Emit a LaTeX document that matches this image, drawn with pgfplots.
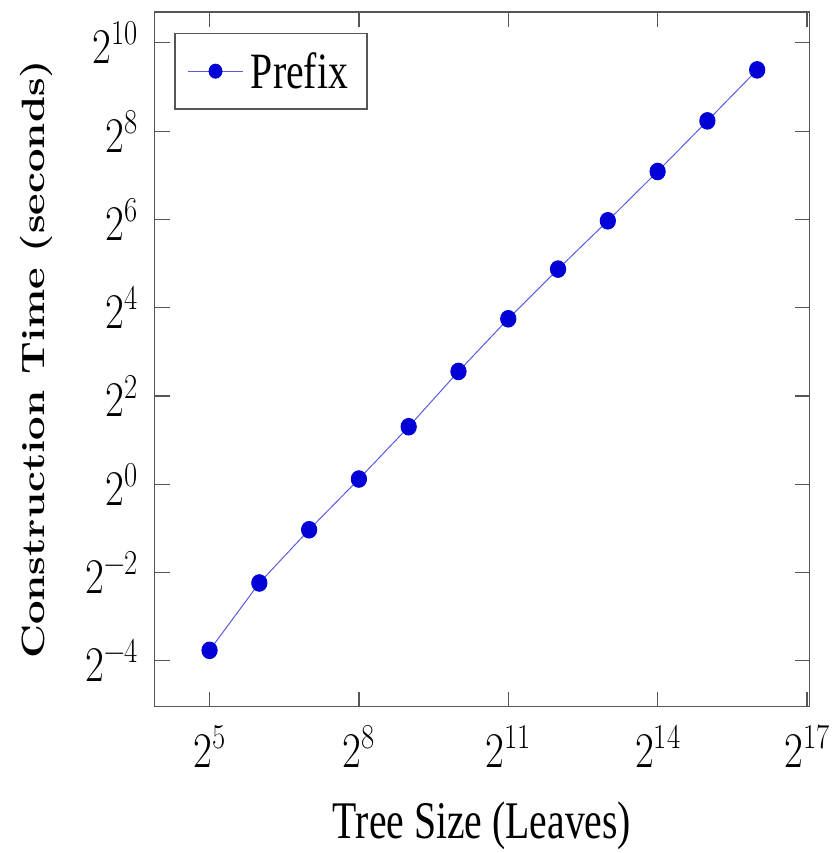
\documentclass[border=0pt]{standalone}
\usepackage{fontspec}
\usepackage{graphicx}
\usepackage{pgfplots}
\pgfplotsset{compat=1.18}
\newfontfamily\timesfont{Liberation Serif}
\definecolor{lineblue}{RGB}{90,90,225}
\definecolor{markblue}{RGB}{0,0,215}
\definecolor{axgray}{RGB}{85,85,85}
\newcommand\tl[1]{2\raisebox{0.38em}{\fontsize{35}{40}\selectfont #1}}
\begin{document}
\begin{tikzpicture}
\begin{axis}[
  name=ax,
  scale only axis, width=656pt, height=696pt,
  xmode=log, ymode=log, log basis x=2, log basis y=2,
  xmin=14.91, xmax=135700, ymin=0.0304, ymax=1663.5,
  xtick={32,256,2048,16384,131072},
  ytick={0.0625,0.25,1,4,16,64,256,1024},
  xticklabels={\tl{5},\tl{8},\tl{11},\tl{14},\tl{17}},
  yticklabels={\tl{−4},\tl{−2},\tl{0},\tl{2},\tl{4},\tl{6},\tl{8},\tl{10}},
  xminorticks=false, yminorticks=false,
  tick label style={font=\fontsize{50}{60}\selectfont, xscale=0.82},
  xticklabel style={yshift=-15pt},
  yticklabel style={xshift=-17pt},
  major tick length=15pt,
  axis line style={axgray, line width=1.5pt},
  every tick/.style={axgray, line width=1.2pt},
  xlabel={\scalebox{0.75}[1]{Tree Size (Leaves)}},
  xlabel style={font=\timesfont\fontsize{53}{60}\selectfont,
    at={(axis description cs:0.5,-0.1897)}, anchor=base},
  ylabel={\scalebox{1}[0.77]{Construction Time (seconds)}},
  ylabel style={font=\bfseries\fontsize{42}{50}\selectfont,
    at={(axis description cs:-0.1677,0.5)}, anchor=base},
  legend style={at={(0.03,0.97)}, anchor=north west, draw=axgray, line width=1.5pt,
    inner xsep=12pt, inner ysep=8pt,
    nodes={inner xsep=7pt, inner ysep=11pt},
    font=\timesfont\fontsize{51}{60}\selectfont},
  legend image code/.code={\draw[mark repeat=2,mark phase=2,#1,mark size=7pt] plot coordinates {(0pt,0pt) (28pt,0pt) (56pt,0pt)};},
]
\addplot[color=lineblue, line width=1pt, mark=*, mark size=8.3pt,
  mark options={fill=markblue, draw=markblue, xscale=0.92}]
coordinates {
(32,0.0736) (64,0.212) (128,0.489) (256,1.085) (512,2.466) (1024,5.877)
(2048,13.44) (4096,29.32) (8192,62.6) (16384,135.8) (32768,300.8) (65536,670)
};
\addlegendentry{\scalebox{0.78}[1]{Prefix}}
\end{axis}
\path ([shift={(-155pt,-145pt)}]ax.south west) rectangle ([shift={(26pt,12pt)}]ax.north east);
\end{tikzpicture}
\end{document}
